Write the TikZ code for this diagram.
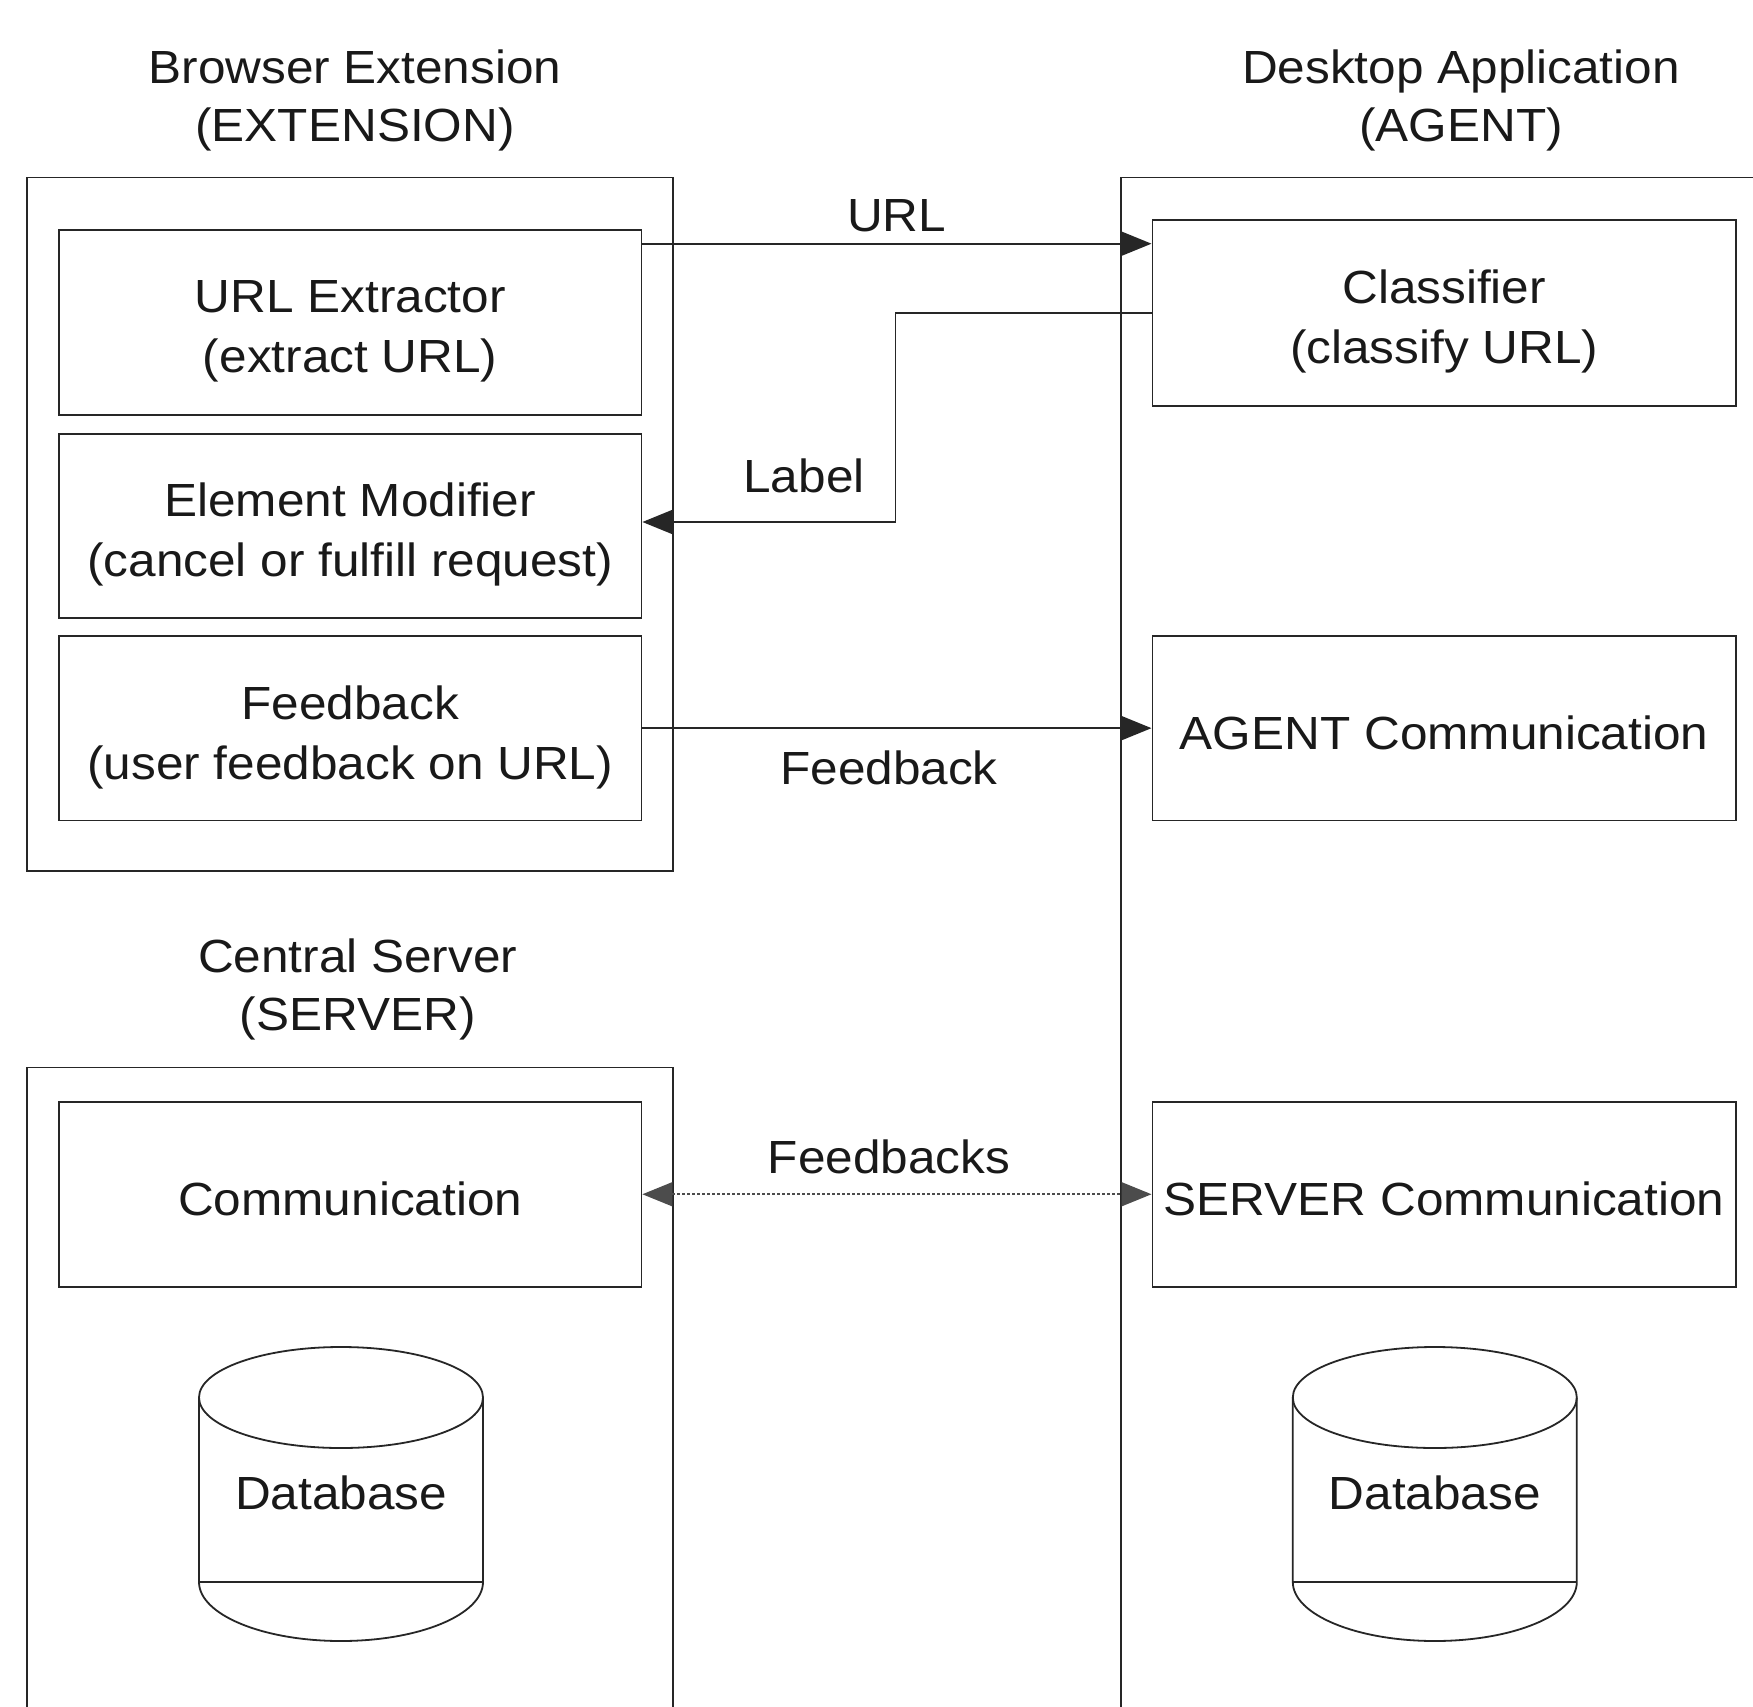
\documentclass[tikz,border=0pt]{standalone}
\usepackage{fontspec}
\setmainfont[FakeStretch=1.065]{Liberation Sans}
\usetikzlibrary{arrows.meta}
\begin{document}
\begin{tikzpicture}[x=1pt,y=-1pt, line width=1.8pt,
  txt/.style={font=\fontsize{46.5}{58}\selectfont, inner sep=0pt, align=center, text=black!90},
  btxt/.style={font=\fontsize{46.5}{60}\selectfont, inner sep=0pt, align=center, text=black!90, yshift=-9pt},
  stxt/.style={txt, yshift=-4.5pt},
  frame/.style={draw=black!85, line width=1.8pt, inner sep=0pt, anchor=north west},
  box/.style={frame, anchor=north west},
  arr/.style={draw=black!85, -{Triangle[length=30pt,width=24pt]}},
  darr/.style={draw=black!70, {Triangle[length=30pt,width=24pt]}-{Triangle[length=30pt,width=24pt]}, line width=1.6pt, dash pattern=on 2.5pt off 2.5pt},
  dbline/.style={draw=black!85, line width=1.8pt}]
\useasboundingbox (0,0) rectangle (1753,1707);
\clip (0,0) rectangle (1753,1707);
\fill[white] (0,0) rectangle (1753,1707);

% titles
\node[stxt] (exttitle) at (355,96) {Browser Extension\\(EXTENSION)};
\node[stxt] (agenttitle) at (1461,96) {Desktop Application\\(AGENT)};
\node[stxt] (servtitle) at (357.7,985) {Central Server\\(SERVER)};

% outer frames
\node[frame, minimum width=646.3pt, minimum height=693.4pt] (ext) at (25.7,176.6) {};
\node[frame, minimum width=700pt, minimum height=1600pt] (agent) at (1120,176.6) {};
\node[frame, minimum width=646.3pt, minimum height=700pt] (server) at (25.7,1066.6) {};

% inner boxes (left)
\node[box, minimum width=582.6pt, minimum height=184.7pt] (urlext) at (58,229) {};
\node[btxt] at (urlext.center) {URL Extractor\\(extract URL)};
\node[box, minimum width=582.6pt, minimum height=184.3pt] (elemmod) at (58,432.7) {};
\node[btxt] at (elemmod.center) {Element Modifier\\(cancel or fulfill request)};
\node[box, minimum width=582.6pt, minimum height=184.5pt] (feedback) at (58,635) {};
\node[btxt] at (feedback.center) {Feedback\\(user feedback on URL)};
\node[box, minimum width=582.6pt, minimum height=184.7pt] (comm) at (58,1101) {};
\node[stxt] at (comm.center) {Communication};

% inner boxes (right)
\node[box, minimum width=583.5pt, minimum height=185.7pt] (classifier) at (1151.5,219) {};
\node[btxt] at (classifier.center) {Classifier\\(classify URL)};
\node[box, minimum width=583.5pt, minimum height=184.5pt] (agentcomm) at (1151.5,635) {};
\node[stxt] at (agentcomm.center) {AGENT Communication};
\node[box, minimum width=583.5pt, minimum height=184.7pt] (servercomm) at (1151.5,1101) {};
\node[stxt] at (servercomm.center) {SERVER Communication};

% connectors
\coordinate (urly) at (0,243.7);
\coordinate (lbly) at (0,313);
\coordinate (bend) at (895.5,522);
\draw[arr] (urlext.east |- urly) -- (classifier.west |- urly);
\node[txt] (urllbl) at (896.6,215.8) {URL};
\draw[arr] (classifier.west |- lbly) -| (bend) -- (elemmod.east |- bend);
\node[txt] (labellbl) at (804,476) {Label};
\draw[arr] (feedback.east) -- (agentcomm.west);
\node[txt] (fblbl) at (889,768) {Feedback};
\draw[darr] (comm.east) -- (servercomm.west);
\node[txt] (fbslbl) at (889,1157) {Feedbacks};

% databases
\draw[dbline] (341,1397.5) ellipse [x radius=142pt, y radius=50.5pt];
\draw[dbline] (199,1397.5) -- (199,1582) arc [start angle=180, end angle=360, x radius=142pt, y radius=59pt] -- (483,1397.5);
\draw[dbline] (199,1582) -- (483,1582);
\node[txt] (db1) at (341,1492.5) {Database};

\draw[dbline] (1434.8,1397.5) ellipse [x radius=142pt, y radius=50.5pt];
\draw[dbline] (1292.8,1397.5) -- (1292.8,1582) arc [start angle=180, end angle=360, x radius=142pt, y radius=59pt] -- (1576.8,1397.5);
\draw[dbline] (1292.8,1582) -- (1576.8,1582);
\node[txt] (db2) at (1434.8,1492.5) {Database};
\end{tikzpicture}
\end{document}
